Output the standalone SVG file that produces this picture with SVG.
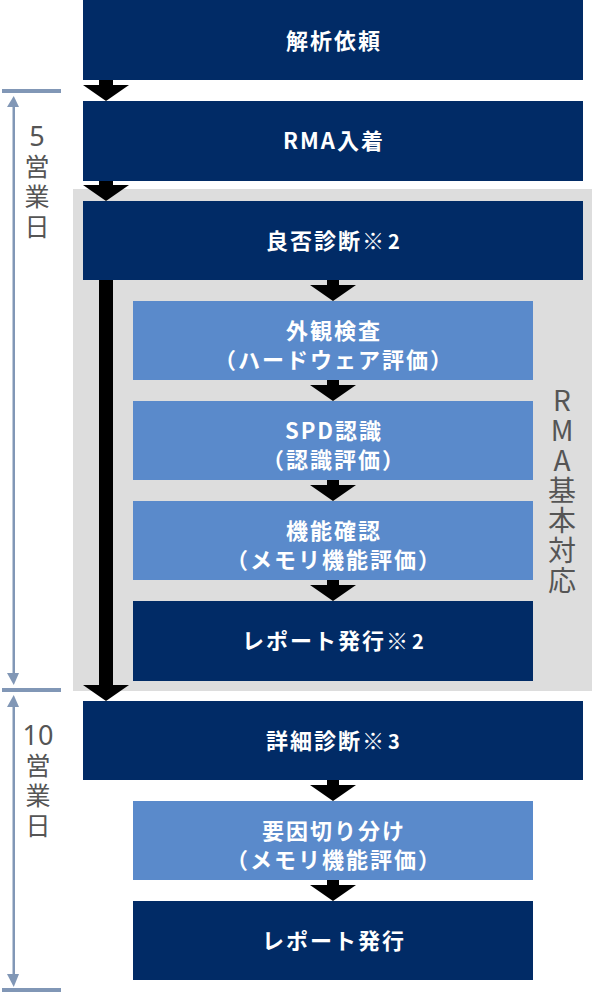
<svg xmlns="http://www.w3.org/2000/svg" width="592" height="993" viewBox="0 0 592 993">
<style>
.dark{fill:#012B66}
.light{fill:#5A8ACB}
.t{font-family:"Noto Sans CJK JP","Noto Sans",sans-serif;font-size:22px;font-weight:bold;fill:#fff;text-anchor:middle;letter-spacing:2px}
.n{font-weight:normal}
.s{font-size:20px}
.vert{font-family:"Noto Sans CJK JP","Noto Sans",sans-serif;fill:#555;writing-mode:vertical-rl;text-orientation:upright}
.dig{font-family:"Noto Sans",sans-serif;font-size:27px;fill:#555;text-anchor:middle}
.tl{fill:#8197B6}
.arr{fill:#000}
</style>
<rect id="rma-area" x="73" y="189" width="519" height="502" fill="#DDDDDD"/>
<g id="timeline">
<rect class="tl" x="2" y="89" width="59" height="4"/>
<rect class="tl" x="2" y="688" width="59" height="4"/>
<rect class="tl" x="2" y="988" width="59" height="4"/>
<rect class="tl" x="12.5" y="100" width="2.5" height="580"/>
<rect class="tl" x="12.5" y="700" width="2.5" height="280"/>
<polygon class="tl" points="7,107 19,107 13.75,96"/>
<polygon class="tl" points="7,673 19,673 13.75,685"/>
<polygon class="tl" points="7,707 19,707 13.75,695"/>
<polygon class="tl" points="7,974 19,974 13.75,987"/>
<g id="label-5days">
<text class="dig" x="37" y="146">5</text>
<text class="vert" x="37" y="153.5" font-size="25" letter-spacing="5">営業日</text>
</g>
<g id="label-10days">
<text class="dig" x="38" y="745">10</text>
<text class="vert" x="38" y="752.5" font-size="25" letter-spacing="5">営業日</text>
</g>
</g>
<g id="rma-label">
<text class="vert" x="562" y="386" font-size="28" letter-spacing="2">RMA基本対応</text>
</g>
<g id="connectors">
<rect class="arr" x="99" y="80" width="14" height="6"/>
<polygon class="arr" points="83,85 129,85 106,101"/>
<rect class="arr" x="99" y="181" width="14" height="5"/>
<polygon class="arr" points="83,185 129,185 106,201"/>
<rect class="arr" x="99" y="280" width="14" height="406"/>
<polygon class="arr" points="83,685 129,685 106,701"/>
<rect class="arr" x="327" y="280" width="12" height="6"/>
<polygon class="arr" points="310,285 356,285 333,301"/>
<rect class="arr" x="327" y="380" width="12" height="6"/>
<polygon class="arr" points="310,385 356,385 333,401"/>
<rect class="arr" x="327" y="480" width="12" height="6"/>
<polygon class="arr" points="310,485 356,485 333,501"/>
<rect class="arr" x="327" y="580" width="12" height="6"/>
<polygon class="arr" points="310,585 356,585 333,601"/>
<rect class="arr" x="327" y="780" width="12" height="6"/>
<polygon class="arr" points="310,785 356,785 333,801"/>
<rect class="arr" x="327" y="880" width="12" height="6"/>
<polygon class="arr" points="310,885 356,885 333,901"/>
</g>
<g id="n1"><rect class="dark" x="83" y="0" width="500" height="80"/><text class="t" x="334" y="49">解析依頼</text></g>
<g id="n2"><rect class="dark" x="83" y="101" width="500" height="80"/><text class="t" x="334" y="149">RMA入着</text></g>
<g id="n3"><rect class="dark" x="83" y="201" width="500" height="79"/><text class="t" x="334" y="249">良否診断<tspan class="n">※</tspan><tspan class="s" dx="2">2</tspan></text></g>
<g id="n4"><rect class="light" x="133" y="301" width="400" height="79"/><text class="t" x="334" y="339">外観検査</text><text class="t" x="334" y="368">（ハードウェア評価）</text></g>
<g id="n5"><rect class="light" x="133" y="401" width="400" height="79"/><text class="t" x="334" y="439">SPD認識</text><text class="t" x="334" y="468">（認識評価）</text></g>
<g id="n6"><rect class="light" x="133" y="501" width="400" height="79"/><text class="t" x="334" y="539">機能確認</text><text class="t" x="334" y="568">（メモリ機能評価）</text></g>
<g id="n7"><rect class="dark" x="133" y="601" width="400" height="80"/><text class="t" x="334" y="649">レポート発行<tspan class="n">※</tspan><tspan class="s" dx="2">2</tspan></text></g>
<g id="n8"><rect class="dark" x="83" y="701" width="500" height="79"/><text class="t" x="334" y="749">詳細診断<tspan class="n">※</tspan><tspan class="s" dx="2">3</tspan></text></g>
<g id="n9"><rect class="light" x="133" y="801" width="400" height="79"/><text class="t" x="334" y="839">要因切り分け</text><text class="t" x="334" y="868">（メモリ機能評価）</text></g>
<g id="n10"><rect class="dark" x="133" y="901" width="400" height="79"/><text class="t" x="334" y="949">レポート発行</text></g>
</svg>
